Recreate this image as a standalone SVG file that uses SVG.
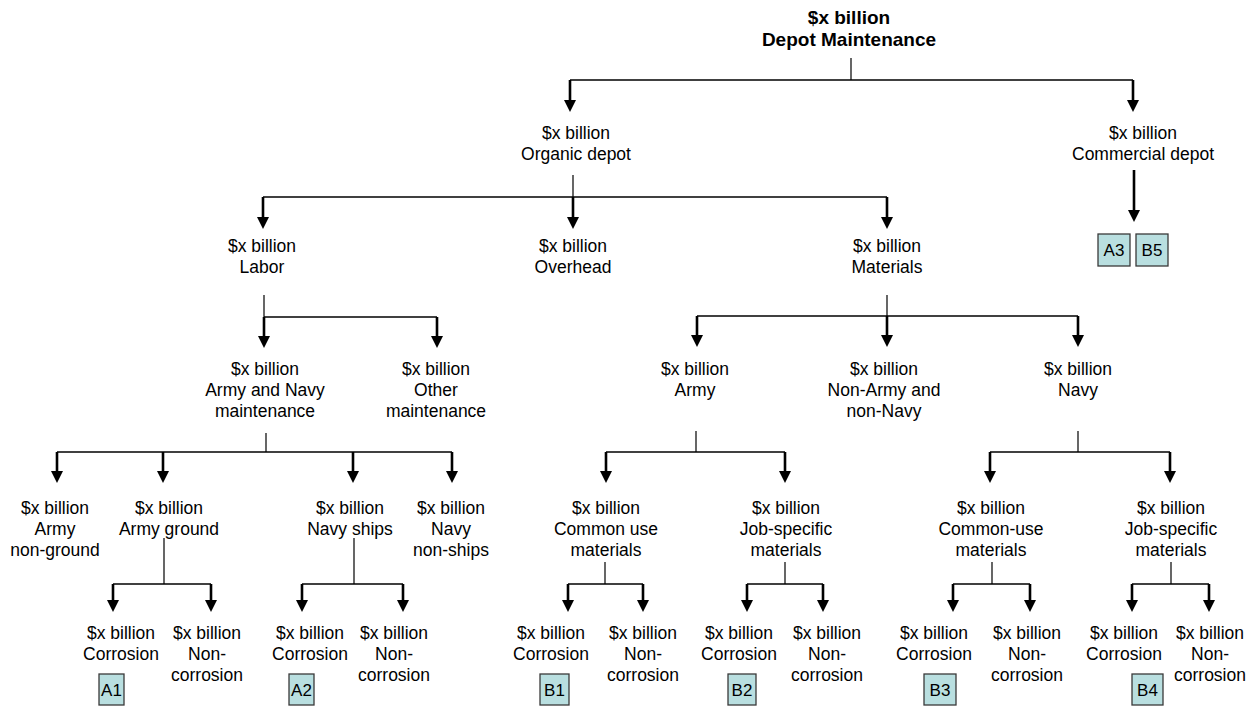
<svg xmlns="http://www.w3.org/2000/svg" xmlns:xlink="http://www.w3.org/1999/xlink" width="1255" height="706" viewBox="0 0 1255 706">
  <style>
    text { font-family: "Liberation Sans", Arial, sans-serif; font-size: 17.5px; fill: #000; text-anchor: middle; }
    .root text { font-size: 19px; font-weight: bold; }
    .stem { stroke: #000; stroke-width: 1.2; fill: none; }
    .bar { stroke: #000; stroke-width: 1.4; fill: none; }
    .shaft { stroke: #000; stroke-width: 2.6; fill: none; }
    .ref rect { fill: #b9dfe0; stroke: #3a3a3a; stroke-width: 1.3; }
    .ref text { font-size: 17px; }
  </style>
  <defs>
    <!-- arrowhead, tip at the origin, pointing down -->
    <path id="head" d="M-6,-12 L6,-12 L0,0 Z" fill="#000"/>
  </defs>

  <rect width="1255" height="706" fill="#fff"/>

  <g id="connectors">
    <!-- Depot Maintenance -->
    <path class="stem" d="M851,58 V80"/>
    <path class="bar" d="M570,80 H1133"/>
    <path class="shaft" d="M570,80 V101 M1133,80 V101"/>
    <use xlink:href="#head" x="570" y="112"/>
    <use xlink:href="#head" x="1133" y="112"/>

    <!-- Commercial depot -->
    <path class="shaft" d="M1134,170 V211"/>
    <use xlink:href="#head" x="1134" y="222"/>

    <!-- Organic depot -->
    <path class="stem" d="M573,175 V197"/>
    <path class="bar" d="M263,197 H887"/>
    <path class="shaft" d="M263,197 V218 M573,197 V218 M887,197 V218"/>
    <use xlink:href="#head" x="263" y="229"/>
    <use xlink:href="#head" x="573" y="229"/>
    <use xlink:href="#head" x="887" y="229"/>

    <!-- Labor -->
    <path class="stem" d="M264,295 V317"/>
    <path class="bar" d="M264,317 H437"/>
    <path class="shaft" d="M264,317 V337 M437,317 V337"/>
    <use xlink:href="#head" x="264" y="348"/>
    <use xlink:href="#head" x="437" y="348"/>

    <!-- Materials -->
    <path class="stem" d="M887,295 V316"/>
    <path class="bar" d="M697,316 H1078"/>
    <path class="shaft" d="M697,316 V336 M887,316 V336 M1078,316 V336"/>
    <use xlink:href="#head" x="697" y="347"/>
    <use xlink:href="#head" x="887" y="347"/>
    <use xlink:href="#head" x="1078" y="347"/>

    <!-- Army and Navy maintenance -->
    <path class="stem" d="M266,433 V452"/>
    <path class="bar" d="M57,452 H452"/>
    <path class="shaft" d="M57,452 V472 M163,452 V472 M353,452 V472 M452,452 V472"/>
    <use xlink:href="#head" x="57" y="483"/>
    <use xlink:href="#head" x="163" y="483"/>
    <use xlink:href="#head" x="353" y="483"/>
    <use xlink:href="#head" x="452" y="483"/>

    <!-- Army materials -->
    <path class="stem" d="M696,431 V452"/>
    <path class="bar" d="M606,452 H785"/>
    <path class="shaft" d="M606,452 V472 M785,452 V472"/>
    <use xlink:href="#head" x="606" y="483"/>
    <use xlink:href="#head" x="785" y="483"/>

    <!-- Navy materials -->
    <path class="stem" d="M1078,431 V452"/>
    <path class="bar" d="M990,452 H1170"/>
    <path class="shaft" d="M990,452 V472 M1170,452 V472"/>
    <use xlink:href="#head" x="990" y="483"/>
    <use xlink:href="#head" x="1170" y="483"/>

    <!-- Army ground -->
    <path class="stem" d="M164,538 V584"/>
    <path class="bar" d="M113,584 H211"/>
    <path class="shaft" d="M113,584 V601 M211,584 V601"/>
    <use xlink:href="#head" x="113" y="612"/>
    <use xlink:href="#head" x="211" y="612"/>

    <!-- Navy ships -->
    <path class="stem" d="M354,538 V584"/>
    <path class="bar" d="M302,584 H403"/>
    <path class="shaft" d="M302,584 V601 M403,584 V601"/>
    <use xlink:href="#head" x="302" y="612"/>
    <use xlink:href="#head" x="403" y="612"/>

    <!-- Army common use materials -->
    <path class="stem" d="M605,562 V584"/>
    <path class="bar" d="M568,584 H643"/>
    <path class="shaft" d="M568,584 V601 M643,584 V601"/>
    <use xlink:href="#head" x="568" y="612"/>
    <use xlink:href="#head" x="643" y="612"/>

    <!-- Army job-specific materials -->
    <path class="stem" d="M785,562 V584"/>
    <path class="bar" d="M747,584 H823"/>
    <path class="shaft" d="M747,584 V601 M823,584 V601"/>
    <use xlink:href="#head" x="747" y="612"/>
    <use xlink:href="#head" x="823" y="612"/>

    <!-- Navy common-use materials -->
    <path class="stem" d="M992,562 V584"/>
    <path class="bar" d="M953,584 H1030"/>
    <path class="shaft" d="M953,584 V601 M1030,584 V601"/>
    <use xlink:href="#head" x="953" y="612"/>
    <use xlink:href="#head" x="1030" y="612"/>

    <!-- Navy job-specific materials -->
    <path class="stem" d="M1171,562 V584"/>
    <path class="bar" d="M1132,584 H1209"/>
    <path class="shaft" d="M1132,584 V601 M1209,584 V601"/>
    <use xlink:href="#head" x="1132" y="612"/>
    <use xlink:href="#head" x="1209" y="612"/>
  </g>

  <!-- level 0 -->
  <g id="depot-maintenance" class="root">
    <text x="849" y="24">$x billion</text>
    <text x="849" y="46">Depot Maintenance</text>
  </g>

  <!-- level 1 -->
  <g id="organic-depot">
    <text x="576" y="139">$x billion</text>
    <text x="576" y="160">Organic depot</text>
  </g>
  <g id="commercial-depot">
    <text x="1143" y="139">$x billion</text>
    <text x="1143" y="160">Commercial depot</text>
  </g>

  <!-- level 2 -->
  <g id="labor">
    <text x="262" y="252">$x billion</text>
    <text x="262" y="273">Labor</text>
  </g>
  <g id="overhead">
    <text x="573" y="252">$x billion</text>
    <text x="573" y="273">Overhead</text>
  </g>
  <g id="materials">
    <text x="887" y="252">$x billion</text>
    <text x="887" y="273">Materials</text>
  </g>

  <!-- level 3 -->
  <g id="army-navy-maintenance">
    <text x="265" y="375">$x billion</text>
    <text x="265" y="396">Army and Navy</text>
    <text x="265" y="417">maintenance</text>
  </g>
  <g id="other-maintenance">
    <text x="436" y="375">$x billion</text>
    <text x="436" y="396">Other</text>
    <text x="436" y="417">maintenance</text>
  </g>
  <g id="army-materials">
    <text x="695" y="375">$x billion</text>
    <text x="695" y="396">Army</text>
  </g>
  <g id="non-army-non-navy">
    <text x="884" y="375">$x billion</text>
    <text x="884" y="396">Non-Army and</text>
    <text x="884" y="417">non-Navy</text>
  </g>
  <g id="navy-materials">
    <text x="1078" y="375">$x billion</text>
    <text x="1078" y="396">Navy</text>
  </g>

  <!-- level 4 -->
  <g id="army-non-ground">
    <text x="55" y="514">$x billion</text>
    <text x="55" y="535">Army</text>
    <text x="55" y="556">non-ground</text>
  </g>
  <g id="army-ground">
    <text x="169" y="514">$x billion</text>
    <text x="169" y="535">Army ground</text>
  </g>
  <g id="navy-ships">
    <text x="350" y="514">$x billion</text>
    <text x="350" y="535">Navy ships</text>
  </g>
  <g id="navy-non-ships">
    <text x="451" y="514">$x billion</text>
    <text x="451" y="535">Navy</text>
    <text x="451" y="556">non-ships</text>
  </g>
  <g id="army-common-use">
    <text x="606" y="514">$x billion</text>
    <text x="606" y="535">Common use</text>
    <text x="606" y="556">materials</text>
  </g>
  <g id="army-job-specific">
    <text x="786" y="514">$x billion</text>
    <text x="786" y="535">Job-specific</text>
    <text x="786" y="556">materials</text>
  </g>
  <g id="navy-common-use">
    <text x="991" y="514">$x billion</text>
    <text x="991" y="535">Common-use</text>
    <text x="991" y="556">materials</text>
  </g>
  <g id="navy-job-specific">
    <text x="1171" y="514">$x billion</text>
    <text x="1171" y="535">Job-specific</text>
    <text x="1171" y="556">materials</text>
  </g>

  <!-- level 5 -->
  <g id="ground-corrosion">
    <text x="121" y="639">$x billion</text>
    <text x="121" y="660">Corrosion</text>
  </g>
  <g id="ground-non-corrosion">
    <text x="207" y="639">$x billion</text>
    <text x="207" y="660">Non-</text>
    <text x="207" y="681">corrosion</text>
  </g>
  <g id="ships-corrosion">
    <text x="310" y="639">$x billion</text>
    <text x="310" y="660">Corrosion</text>
  </g>
  <g id="ships-non-corrosion">
    <text x="394" y="639">$x billion</text>
    <text x="394" y="660">Non-</text>
    <text x="394" y="681">corrosion</text>
  </g>
  <g id="army-common-corrosion">
    <text x="551" y="639">$x billion</text>
    <text x="551" y="660">Corrosion</text>
  </g>
  <g id="army-common-non-corrosion">
    <text x="643" y="639">$x billion</text>
    <text x="643" y="660">Non-</text>
    <text x="643" y="681">corrosion</text>
  </g>
  <g id="army-job-corrosion">
    <text x="739" y="639">$x billion</text>
    <text x="739" y="660">Corrosion</text>
  </g>
  <g id="army-job-non-corrosion">
    <text x="827" y="639">$x billion</text>
    <text x="827" y="660">Non-</text>
    <text x="827" y="681">corrosion</text>
  </g>
  <g id="navy-common-corrosion">
    <text x="934" y="639">$x billion</text>
    <text x="934" y="660">Corrosion</text>
  </g>
  <g id="navy-common-non-corrosion">
    <text x="1027" y="639">$x billion</text>
    <text x="1027" y="660">Non-</text>
    <text x="1027" y="681">corrosion</text>
  </g>
  <g id="navy-job-corrosion">
    <text x="1124" y="639">$x billion</text>
    <text x="1124" y="660">Corrosion</text>
  </g>
  <g id="navy-job-non-corrosion">
    <text x="1210" y="639">$x billion</text>
    <text x="1210" y="660">Non-</text>
    <text x="1210" y="681">corrosion</text>
  </g>

  <!-- reference tags -->
  <g id="tag-a1" class="ref">
    <rect x="99" y="674" width="25" height="31"/>
    <text x="111.5" y="696">A1</text>
  </g>
  <g id="tag-a2" class="ref">
    <rect x="289" y="674" width="25" height="31"/>
    <text x="301.5" y="696">A2</text>
  </g>
  <g id="tag-b1" class="ref">
    <rect x="540" y="674" width="29" height="31"/>
    <text x="554.5" y="696">B1</text>
  </g>
  <g id="tag-b2" class="ref">
    <rect x="728" y="674" width="28" height="31"/>
    <text x="742" y="696">B2</text>
  </g>
  <g id="tag-b3" class="ref">
    <rect x="924" y="674" width="32" height="31"/>
    <text x="940" y="696">B3</text>
  </g>
  <g id="tag-b4" class="ref">
    <rect x="1132" y="674" width="31" height="31"/>
    <text x="1147.5" y="696">B4</text>
  </g>
  <g id="tag-a3" class="ref">
    <rect x="1098" y="234" width="32" height="32"/>
    <text x="1114" y="256">A3</text>
  </g>
  <g id="tag-b5" class="ref">
    <rect x="1136" y="234" width="32" height="32"/>
    <text x="1152" y="256">B5</text>
  </g>
</svg>
